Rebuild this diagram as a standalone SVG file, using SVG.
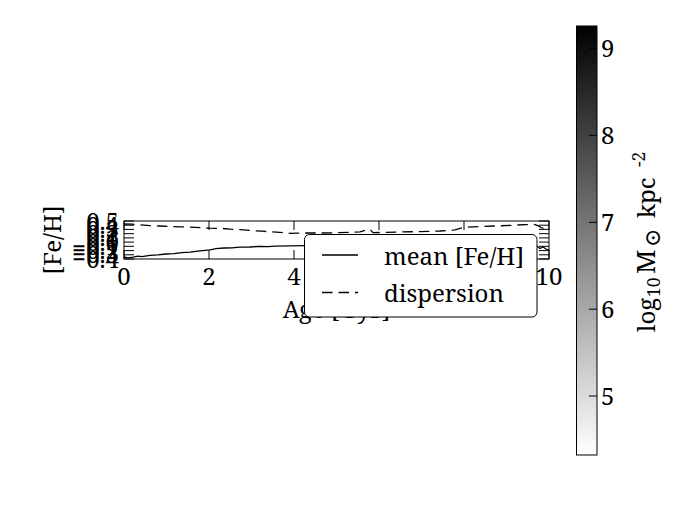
<svg xmlns="http://www.w3.org/2000/svg" width="690" height="520" viewBox="0 0 690 520">
<style>
.t{font-family:"Noto Serif","DejaVu Serif","DejaVu Sans",serif;font-size:24px;fill:#000}
.ax{fill:none;stroke:#000;stroke-width:1}
.tk{stroke:#000;stroke-width:1}
.solid{fill:none;stroke:#000;stroke-width:1.3}
.dash{fill:none;stroke:#000;stroke-width:1.3;stroke-dasharray:10.5,6}
</style>
<defs>
<linearGradient id="gray" x1="0" y1="0" x2="0" y2="1">
<stop offset="0" stop-color="#000"/>
<stop offset="1" stop-color="#fff"/>
</linearGradient>
</defs>
<rect width="690" height="520" fill="#fff"/>

<g id="axes">
<rect x="124" y="221" width="425" height="38" fill="#fff"/>
<g id="data">
<polyline class="solid" points="124,257 128,257.8 133,257.2 138,256.2 142,256.6 150,255.4 158,254.8 166,254 174,253.6 182,252.6 190,252.2 200,250.9 210,249.8 216,248.6 224,248 232,247.8 240,247.2 250,247 260,246.4 268,246.7 275,246.1 290,245.9 305,245.6 340,245 380,244.5 420,244 460,243.8 500,244 530,245 537,246 540,248.5 543,247 546,249 549,250"/>
<polyline class="dash" points="124,224 132,224.2 140,224.8 150,225.6 160,226 170,226.4 180,226.8 195,227.4 210,228.2 222,228.4 230,229.2 240,229.6 250,230.4 262,231.2 270,231.8 280,232.4 290,233.3 305,233 320,233 335,232.8 350,232.4 360,231.8 366,230.2 370,229.2 373,232.6 385,232.4 400,232 420,231.6 440,231 455,229.8 465,227.2 480,226.6 495,226 510,225.4 525,224.6 534,224.4 538,225.6 541,227.5 545,229"/>
</g>
<rect class="ax" x="124" y="221" width="425" height="38"/>
<g id="xticks">
<path class="tk" d="M124,221v9M124,259v-9M209,221v9M209,259v-9M294,221v9M294,259v-9M379,221v9M379,259v-9M464,221v9M464,259v-9M549,221v9M549,259v-9"/>
<text class="t" text-anchor="middle" x="124" y="285">0</text>
<text class="t" text-anchor="middle" x="209" y="285">2</text>
<text class="t" text-anchor="middle" x="294" y="285">4</text>
<text class="t" text-anchor="middle" x="379" y="285">6</text>
<text class="t" text-anchor="middle" x="464" y="285">8</text>
<text class="t" text-anchor="middle" x="549" y="285">10</text>
</g>
<g id="yticks">
<path class="tk" d="M124,221h10M124,225.2h10M124,229.4h10M124,233.7h10M124,237.9h10M124,242.1h10M124,246.3h10M124,250.6h10M124,254.8h10M124,259h10M549,221h-10M549,225.2h-10M549,229.4h-10M549,233.7h-10M549,237.9h-10M549,242.1h-10M549,246.3h-10M549,250.6h-10M549,254.8h-10M549,259h-10"/>
<text class="t" text-anchor="end" x="119" y="229.5">0.5</text>
<text class="t" text-anchor="end" x="119" y="233.7">0.4</text>
<text class="t" text-anchor="end" x="119" y="237.9">0.3</text>
<text class="t" text-anchor="end" x="119" y="242.2">0.2</text>
<text class="t" text-anchor="end" x="119" y="246.4">0.1</text>
<text class="t" text-anchor="end" x="119" y="250.6">0.0</text>
<text class="t" text-anchor="end" x="119" y="254.8">−0.1</text>
<text class="t" text-anchor="end" x="119" y="259.1">−0.2</text>
<text class="t" text-anchor="end" x="119" y="263.3">−0.3</text>
<text class="t" text-anchor="end" x="119" y="267.5">−0.4</text>
</g>
<text class="t" text-anchor="middle" x="336.5" y="318">Age [Gyr]</text>
<text class="t" text-anchor="middle" font-size="25.5" transform="translate(61,240) rotate(-90)">[Fe/H]</text>
</g>

<g id="legend">
<rect x="304.5" y="234.5" width="232.5" height="82.5" rx="5" ry="5" fill="#fff" stroke="#000" stroke-width="1"/>
<line class="solid" x1="322" y1="255" x2="358" y2="255"/>
<text class="t" x="384" y="265">mean [Fe/H]</text>
<line class="dash" x1="322" y1="292.5" x2="358" y2="292.5"/>
<text class="t" x="384" y="302">dispersion</text>
</g>

<g id="colorbar">
<rect x="576.5" y="26" width="20.5" height="429" fill="url(#gray)" stroke="#000" stroke-width="1"/>
<path class="tk" d="M597,48.5h-8M597,135.4h-8M597,222.3h-8M597,309.2h-8M597,396h-8"/>
<text class="t" x="601" y="57">9</text>
<text class="t" x="601" y="144">8</text>
<text class="t" x="601" y="231">7</text>
<text class="t" x="601" y="318">6</text>
<text class="t" x="601" y="404.5">5</text>
<text class="t" font-size="25" transform="translate(655,332) rotate(-90)"><tspan x="0" y="0">log</tspan><tspan font-size="17.5" x="35" y="5">10</tspan><tspan font-size="26" x="58" y="0">M</tspan><tspan font-size="22" x="85" y="5">⊙</tspan><tspan x="114" y="0">kpc</tspan><tspan font-size="17.5" x="165" y="-10">-2</tspan></text>
</g>
</svg>
